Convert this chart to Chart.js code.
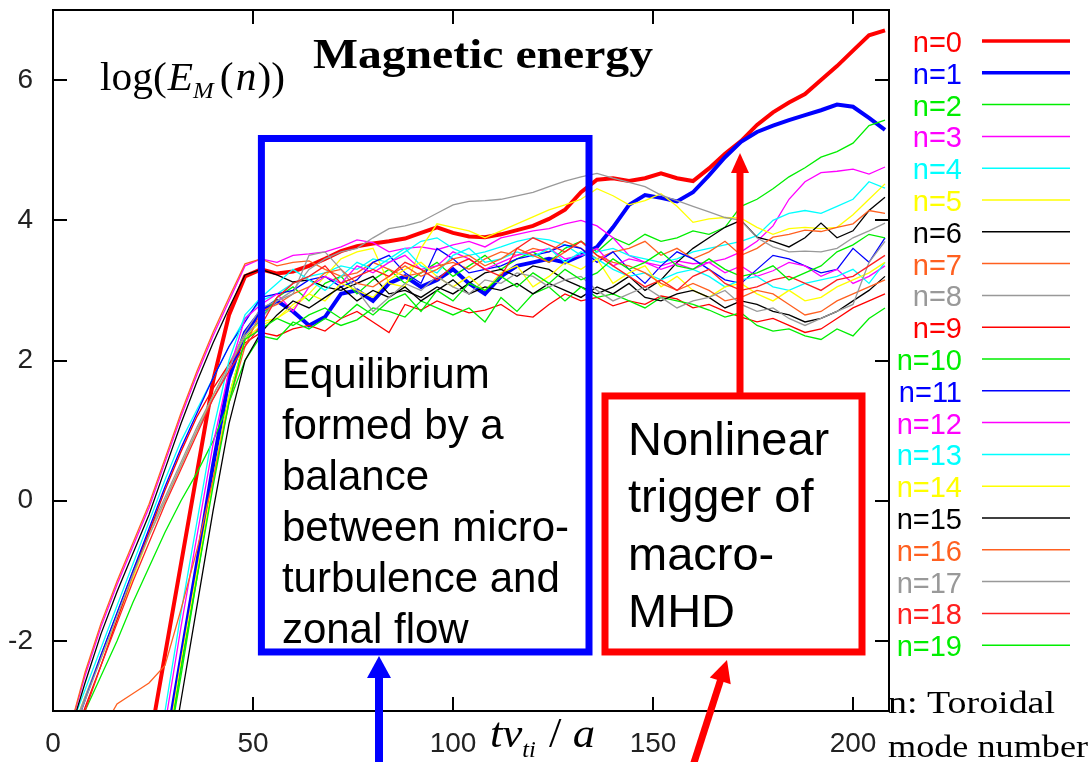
<!DOCTYPE html>
<html>
<head>
<meta charset="utf-8">
<script src="https://cdn.jsdelivr.net/npm/chart.js@4.4.1/dist/chart.umd.min.js"></script>
<style>
html,body{margin:0;padding:0;background:#fff}
canvas{display:block}
</style>
</head>
<body>
<canvas id="chart" width="1090" height="762"></canvas>
<script>
// time axis tv_ti/a (step 4)
const T = [0,4,8,12,16,20,24,28,32,36,40,44,48,52,56,60,64,68,72,76,80,84,88,92,96,100,104,108,112,116,120,124,128,132,136,140,144,148,152,156,160,164,168,172,176,180,184,188,192,196,200,204,208];
const _ = null;

// log(E_M(n)), one array per toroidal mode
const n0 = [_,_,_,_,_,_,-3.5,-2.2,-0.9,0.4,1.7,2.65,3.2,
  3.3,3.24,3.27,3.35,3.45,3.56,3.63,3.67,3.7,3.74,3.82,3.9,3.82,
  3.77,3.76,3.8,3.86,3.92,4.02,4.15,4.4,4.58,4.6,4.56,4.6,4.67,
  4.6,4.56,4.74,4.95,5.13,5.36,5.54,5.68,5.8,6.0,6.2,6.42,6.64,6.71];
const n1 = [_,_,_,_,_,_,_,-3.6,-2.25,-0.9,0.5,1.75,2.4,
  2.7,2.85,2.7,2.5,2.62,2.95,3.0,2.85,3.1,3.2,3.05,3.15,3.3,
  3.1,2.95,3.2,3.35,3.4,3.45,3.4,3.5,3.62,3.9,4.22,4.36,4.32,
  4.27,4.4,4.64,4.9,5.12,5.26,5.35,5.43,5.5,5.57,5.65,5.62,5.46,5.29];
const n2 = [_,_,_,_,_,_,_,-3.8,-2.5,-1.1,0.3,1.5,2.3,
  2.6,2.9,3.05,2.85,3.1,3.2,2.95,3.15,3.3,3.1,3.25,3.4,3.2,
  3.35,3.5,3.3,3.45,3.55,3.4,3.6,3.7,3.55,3.75,3.65,3.8,3.7,
  3.75,3.85,3.8,3.9,4.2,4.3,4.45,4.62,4.75,4.9,4.98,5.1,5.35,5.43];
const n3 = [_,-3.3,-2.5,-1.8,-1.2,-0.65,-0.1,0.55,1.2,1.8,2.35,2.85,3.35,
  3.45,3.4,3.5,3.52,3.55,3.62,3.72,3.68,3.55,3.6,3.62,3.58,3.65,
  3.7,3.62,3.75,3.8,3.85,3.88,3.95,4.0,3.92,3.75,3.5,3.4,3.35,
  3.42,3.38,3.4,3.45,3.55,3.7,3.92,4.3,4.55,4.68,4.7,4.73,4.66,4.76];
const n4 = [_,-3.3,-2.7,-2.1,-1.5,-0.9,-0.3,0.3,0.85,1.3,1.75,2.2,2.6,
  2.85,2.95,3.1,3.2,3.25,3.35,3.3,3.45,3.4,3.55,3.7,3.75,3.6,
  3.5,3.55,3.62,3.7,3.75,3.72,3.65,3.5,3.55,3.6,3.5,3.45,3.4,
  3.45,3.55,3.6,3.65,3.7,3.78,4.0,4.1,4.14,4.1,4.2,4.3,4.55,4.46];
const n5 = [_,-3.4,-2.8,-2.25,-1.7,-1.1,-0.5,0.0,0.5,1.0,1.5,1.95,2.35,
  2.55,2.6,2.75,2.95,3.2,3.45,3.55,3.6,3.1,3.05,3.6,3.95,3.9,
  3.85,3.75,3.85,3.95,4.05,4.15,4.22,4.3,4.45,4.35,4.22,4.28,4.38,
  4.2,3.97,4.02,4.04,4.03,3.9,3.8,3.88,3.9,3.88,3.9,4.08,4.3,4.52];
const n6 = [_,-3.35,-2.6,-1.9,-1.3,-0.75,-0.2,0.45,1.1,1.7,2.25,2.75,3.22,
  3.3,3.22,3.12,3.15,3.05,3.0,3.1,3.2,2.95,3.0,2.9,3.05,2.95,
  3.1,3.25,3.3,3.2,3.35,3.3,3.15,3.05,2.95,3.05,3.2,3.0,3.15,
  3.4,3.6,3.75,3.9,4.0,3.76,3.7,3.62,3.75,3.96,3.75,3.85,4.14,4.33];
const n7 = [_,-3.3,-2.45,-1.75,-1.15,-0.6,-0.05,0.6,1.25,1.85,2.4,2.9,3.38,
  3.45,3.35,3.4,3.42,3.3,3.2,3.25,3.4,3.3,3.2,3.25,3.35,3.4,
  3.3,3.45,3.55,3.5,3.6,3.55,3.7,3.6,3.45,3.55,3.6,3.7,3.5,
  3.6,3.45,3.55,3.7,3.5,3.6,3.76,3.8,3.86,3.84,3.9,3.95,4.14,4.1];
const n8 = [_,-3.4,-2.8,-2.2,-1.6,-1.0,-0.45,0.05,0.55,1.05,1.5,1.95,2.4,
  2.75,2.85,3.0,3.3,3.45,3.55,3.6,3.75,3.88,3.92,3.98,4.1,4.22,
  4.27,4.28,4.3,4.35,4.4,4.48,4.56,4.62,4.67,4.6,4.54,4.48,4.36,
  4.28,4.2,4.12,4.04,4.0,3.75,3.62,3.55,3.56,3.55,3.6,3.75,3.85,3.96];
const n9 = [_,-3.6,-2.95,-2.35,-1.7,-1.05,-0.45,0.15,0.7,1.2,1.6,1.95,2.25,
  2.4,2.35,2.45,2.5,2.42,2.6,2.7,2.55,2.4,2.8,2.72,2.85,2.76,
  2.68,2.72,2.8,2.65,2.62,2.8,2.95,2.85,2.9,2.78,2.85,2.8,2.92,
  2.88,2.75,2.8,2.7,2.62,2.55,2.6,2.5,2.4,2.45,2.6,2.75,2.85,2.95];
const n10 = [_,-3.5,-3.0,-2.5,-2.0,-1.45,-0.95,-0.45,0.0,0.4,0.85,1.4,2.0,
  2.35,2.3,2.55,2.45,2.6,2.5,2.58,2.75,2.7,2.62,2.85,2.75,2.65,
  2.75,2.55,2.9,2.7,2.95,3.05,2.85,3.05,2.9,2.95,2.85,2.75,2.9,
  2.85,2.8,2.72,2.62,2.68,2.5,2.42,2.45,2.35,2.3,2.45,2.35,2.6,2.75];
const n11 = [_,-3.5,-2.85,-2.2,-1.6,-1.0,-0.4,0.2,0.75,1.25,1.75,2.2,2.55,
  2.9,2.95,3.0,3.15,3.2,3.05,3.15,3.4,3.5,3.25,3.1,3.6,3.45,
  3.25,3.3,3.35,3.45,3.5,3.55,3.65,3.6,3.4,3.55,3.3,3.1,3.35,
  3.55,3.45,3.3,3.15,3.1,3.3,3.5,3.45,3.35,3.25,3.3,3.6,3.4,3.75];
const n12 = [_,_,_,_,_,_,_,-3.2,-1.8,-0.5,0.8,1.85,2.6,
  2.8,2.95,2.7,3.05,3.2,3.1,3.35,3.25,3.4,3.5,3.3,3.35,3.55,
  3.45,3.3,3.4,3.5,3.55,3.6,3.45,3.5,3.6,3.35,3.45,3.4,3.3,
  3.38,3.3,3.4,3.25,3.35,3.2,3.28,3.4,3.35,3.2,3.3,3.1,3.2,3.35];
const n13 = [_,_,_,_,_,_,-4.2,-3.0,-1.6,-0.3,1.0,2.0,2.65,
  2.9,3.1,3.3,3.15,3.0,3.2,3.4,3.3,3.45,3.6,3.35,3.25,3.5,
  3.6,3.4,3.45,3.55,3.48,3.6,3.4,3.55,3.45,3.3,3.2,3.25,3.15,
  3.25,3.3,3.2,3.05,3.15,3.2,3.05,3.0,3.1,3.15,3.2,3.3,3.1,3.4];
const n14 = [_,_,_,_,_,_,_,-3.7,-2.3,-1.0,0.3,1.5,2.3,
  2.5,2.6,2.8,2.95,2.85,3.1,3.0,2.9,3.15,3.3,3.4,3.2,3.05,
  3.2,3.0,3.25,3.35,3.05,3.2,3.4,3.3,3.45,3.1,3.25,3.35,3.05,
  3.2,3.0,2.9,3.05,3.1,2.95,2.85,3.0,2.85,2.9,3.05,3.15,3.25,3.4];
const n15 = [_,_,_,_,_,_,_,-4.2,-2.85,-1.5,-0.15,1.1,2.0,
  2.4,2.65,2.85,2.75,2.9,3.05,2.85,3.0,2.9,3.05,2.85,3.0,3.15,
  2.95,3.05,3.0,3.1,2.95,3.1,3.0,2.9,3.05,2.95,3.1,2.9,2.85,
  2.95,3.0,2.9,2.75,2.85,2.8,2.7,2.65,2.55,2.6,2.7,2.85,3.0,3.2];
const n16 = [_,_,_,-3.3,-2.9,-2.75,-2.6,-2.35,-1.55,-0.7,0.3,1.4,2.2,
  2.7,2.8,2.95,3.05,3.25,3.3,3.1,3.05,3.2,3.35,3.2,3.3,3.45,
  3.5,3.35,3.45,3.6,3.5,3.4,3.55,3.7,3.5,3.4,3.35,3.25,3.1,
  3.0,3.1,3.0,2.85,2.9,3.0,2.95,2.8,2.65,2.7,2.85,2.95,3.05,3.15];
const n17 = [_,-3.45,-2.85,-2.25,-1.65,-1.05,-0.5,0.0,0.5,1.0,1.45,1.9,2.35,
  2.6,2.85,2.95,3.5,3.55,3.3,3.0,2.7,2.9,3.1,3.0,3.2,3.05,
  2.95,3.15,3.1,3.25,3.2,3.05,3.15,3.2,3.0,2.85,2.95,3.05,2.9,
  2.75,2.85,2.9,3.0,2.8,2.7,2.75,2.6,2.5,2.6,2.7,2.8,3.4,3.7];
const n18 = [_,-3.6,-3.0,-2.35,-1.75,-1.15,-0.6,-0.05,0.45,0.95,1.45,1.85,2.2,
  2.5,2.9,3.1,3.2,3.35,3.1,3.2,3.3,3.2,3.4,3.3,3.15,3.35,
  3.45,3.3,3.2,3.6,3.75,3.65,3.55,3.7,3.5,3.35,3.2,3.05,3.15,
  3.0,3.2,3.3,3.1,3.0,3.05,3.15,3.2,3.1,3.0,3.15,3.2,3.35,3.5];
const n19 = [_,_,_,_,_,_,_,-3.8,-2.4,-1.1,0.2,1.4,2.3,
  2.45,2.6,2.5,2.65,2.75,2.6,2.8,2.65,2.85,2.95,2.7,3.0,2.85,
  3.1,3.0,3.2,3.05,3.25,3.1,3.3,3.15,3.25,3.45,3.3,3.4,3.55,
  3.35,3.3,3.45,3.3,3.2,3.25,3.35,3.15,3.25,3.35,3.55,3.65,3.8,3.75];

const series = [n0,n1,n2,n3,n4,n5,n6,n7,n8,n9,n10,n11,n12,n13,n14,n15,n16,n17,n18,n19];
const modeLabels = ['n=0','n=1','n=2','n=3','n=4','n=5','n=6','n=7','n=8','n=9',
  'n=10','n=11','n=12','n=13','n=14','n=15','n=16','n=17','n=18','n=19'];
const modeColors = ['#ff0000','#0000ff','#00ee00','#ff00ff','#00ffff','#ffff00','#000000','#ff6020','#999999','#ff0000',
  '#00ee00','#0000ff','#ff00ff','#00ffff','#ffff00','#000000','#ff6020','#999999','#ff2020','#00ee00'];
const xTickValues = [0,50,100,150,200];
const yTickValues = [-2,0,2,4,6];

const datasets = series.map((vals,i)=>({
  label: modeLabels[i],
  data: T.map((t,k)=>({x:t, y:vals[k]})),
  borderColor: modeColors[i],
  borderWidth: i < 2 ? 4 : 1.3,
  pointRadius: 0,
  tension: 0,
  order: 19 - i,
  clip: 0
}));

function stretched(ctx, text, x, y, font, width){
  ctx.save();
  ctx.font = font;
  const w = ctx.measureText(text).width;
  ctx.translate(x, y);
  ctx.scale(width / w, 1);
  ctx.fillText(text, 0, 0);
  ctx.restore();
}

// pieces: [text, font, dy, gapBefore]
function compound(ctx, pieces, x, y, width){
  ctx.save();
  let total = 0;
  pieces.forEach(p=>{ ctx.font = p[1]; total += (p[3]||0) + ctx.measureText(p[0]).width; });
  ctx.translate(x, y);
  ctx.scale(width / total, 1);
  let cx = 0;
  pieces.forEach(p=>{
    ctx.font = p[1];
    cx += p[3]||0;
    ctx.fillText(p[0], cx, p[2]);
    cx += ctx.measureText(p[0]).width;
  });
  ctx.restore();
}

function arrow(ctx, x0, y0, x1, y1, color, shaftW, headL, headW){
  const ang = Math.atan2(y1-y0, x1-x0);
  const len = Math.hypot(x1-x0, y1-y0);
  ctx.save();
  ctx.translate(x0, y0);
  ctx.rotate(ang);
  ctx.fillStyle = color;
  ctx.fillRect(0, -shaftW/2, len - headL + 1, shaftW);
  ctx.beginPath();
  ctx.moveTo(len, 0);
  ctx.lineTo(len - headL, -headW/2);
  ctx.lineTo(len - headL, headW/2);
  ctx.closePath();
  ctx.fill();
  ctx.restore();
}

const decorations = {
  id: 'decorations',
  afterDraw(chart){
    const {ctx, chartArea:a, scales:{x, y}} = chart;
    ctx.save();
    // gnuplot style frame with inward ticks on all sides
    ctx.strokeStyle = '#000';
    ctx.lineWidth = 2;
    ctx.strokeRect(a.left, a.top, a.right - a.left, a.bottom - a.top);
    ctx.beginPath();
    xTickValues.forEach(v=>{
      const px = Math.round(x.getPixelForValue(v));
      if (px <= a.left + 2) return;
      ctx.moveTo(px, a.bottom); ctx.lineTo(px, a.bottom - 14);
      ctx.moveTo(px, a.top); ctx.lineTo(px, a.top + 14);
    });
    yTickValues.forEach(v=>{
      const py = Math.round(y.getPixelForValue(v));
      ctx.moveTo(a.left, py); ctx.lineTo(a.left + 14, py);
      ctx.moveTo(a.right, py); ctx.lineTo(a.right - 14, py);
    });
    ctx.stroke();

    // legend outside the frame
    chart.data.datasets.forEach((ds, i)=>{
      const base = 52 + i * 31.8;
      ctx.fillStyle = ds.borderColor;
      ctx.font = '29px "Liberation Sans", Arial, sans-serif';
      ctx.textAlign = 'right';
      ctx.textBaseline = 'alphabetic';
      ctx.fillText(ds.label, 962, base);
      ctx.strokeStyle = ds.borderColor;
      ctx.lineWidth = i < 2 ? 3.5 : 1.5;
      ctx.beginPath();
      ctx.moveTo(982, base - 11);
      ctx.lineTo(1070, base - 11);
      ctx.stroke();
    });
    ctx.textAlign = 'left';
    ctx.fillStyle = '#000';
    stretched(ctx, 'n: Toroidal', 888, 713, '32px "Liberation Serif", serif', 167);
    stretched(ctx, 'mode number', 888, 757, '32px "Liberation Serif", serif', 200);

    // titles
    stretched(ctx, 'Magnetic energy', 313, 68, 'bold 42px "Liberation Serif", serif', 340);
    const it = 'italic 40px "Liberation Serif", serif', up = '40px "Liberation Serif", serif';
    compound(ctx, [['log(', up, 0], ['E', it, 0, 1], ['M', 'italic 24px "Liberation Serif", serif', 8, 0],
      ['(', up, 0, 6], ['n', it, 0, 2], ['))', up, 0, 1]], 100, 90, 185);
    compound(ctx, [['tv', 'italic 42px "Liberation Serif", serif', 0], ['ti', 'italic 23px "Liberation Serif", serif', 10, 0],
      [' / ', '42px "Liberation Serif", serif', 0, 2], ['a', 'italic 42px "Liberation Serif", serif', 0, 0]], 490, 747, 105);

    // blue box: equilibrium phase
    const bL = x.getPixelForValue(52.1), bR = x.getPixelForValue(134.0);
    const bT = y.getPixelForValue(5.167), bB = y.getPixelForValue(-2.158);
    ctx.strokeStyle = '#0000ff';
    ctx.lineWidth = 7;
    ctx.strokeRect(bL, bT, bR - bL, bB - bT);
    ctx.fillStyle = '#000';
    ctx.font = '42px "Liberation Sans", Arial, sans-serif';
    ['Equilibrium','formed by a','balance','between micro-','turbulence and','zonal flow'].forEach((s,k)=>{
      ctx.fillText(s, bL + 20.5, bT + 249.5 + k * 51);
    });
    arrow(ctx, x.getPixelForValue(81.5), 770, x.getPixelForValue(81.5), bB + 4, '#0000ff', 8, 22, 24);

    // red box: macro-MHD trigger
    const rL = x.getPixelForValue(138.0), rR = x.getPixelForValue(202.25);
    const rT = y.getPixelForValue(1.494), rB = y.getPixelForValue(-2.158);
    ctx.strokeStyle = '#ff0000';
    ctx.lineWidth = 7;
    ctx.strokeRect(rL, rT, rR - rL, rB - rT);
    ctx.fillStyle = '#000';
    ctx.font = '47px "Liberation Sans", Arial, sans-serif';
    ['Nonlinear','trigger of','macro-','MHD'].forEach((s,k)=>{
      ctx.fillText(s, rL + 23, rT + 59 + k * 57.5);
    });
    const ax = x.getPixelForValue(171.75);
    arrow(ctx, ax, rT - 3, ax, y.getPixelForValue(4.96), '#ff0000', 7, 20, 18);
    arrow(ctx, x.getPixelForValue(159.25), 775, x.getPixelForValue(168.5), rB + 8, '#ff0000', 7, 22, 22);
    ctx.restore();
  }
};

new Chart(document.getElementById('chart').getContext('2d'), {
  type: 'line',
  data: { datasets },
  options: {
    responsive: false,
    animation: false,
    layout: { padding: { top: 10, right: 201, left: 0, bottom: 0 } },
    plugins: { legend: { display: false }, tooltip: { enabled: false } },
    scales: {
      x: {
        type: 'linear', min: 0, max: 209,
        grid: { display: false, drawTicks: false },
        border: { display: false },
        afterBuildTicks: s => { s.ticks = xTickValues.map(v=>({value:v})); },
        afterFit: s => { s.height = 51; s.paddingLeft = 0; s.paddingRight = 0; },
        ticks: { color: '#222', padding: 16, maxRotation: 0, font: { family: '"Liberation Sans", Arial, sans-serif', size: 28 } }
      },
      y: {
        type: 'linear', min: -3, max: 7,
        grid: { display: false, drawTicks: false },
        border: { display: false },
        afterBuildTicks: s => { s.ticks = yTickValues.map(v=>({value:v})); },
        afterFit: s => { s.width = 53; s.paddingTop = 0; s.paddingBottom = 0; },
        ticks: { color: '#222', padding: 20, font: { family: '"Liberation Sans", Arial, sans-serif', size: 28 } }
      }
    }
  },
  plugins: [decorations]
});
</script>
</body>
</html>
